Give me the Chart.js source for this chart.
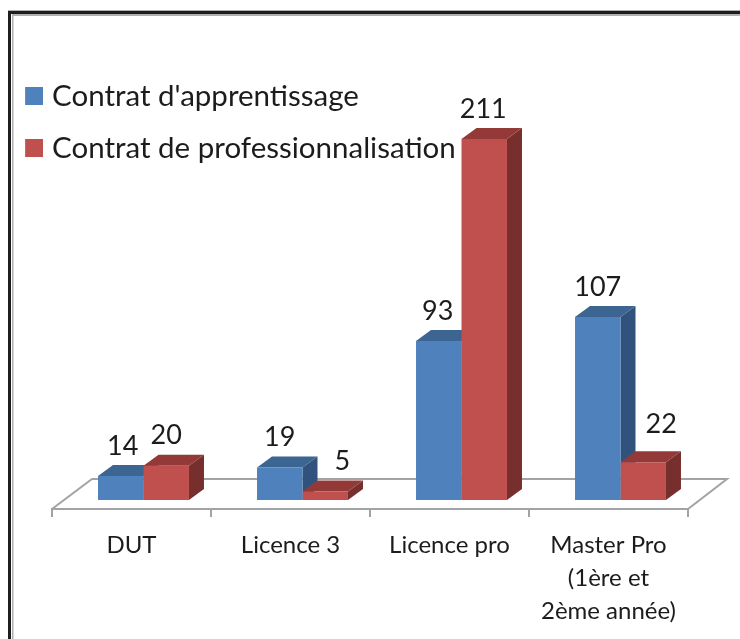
<!DOCTYPE html>
<html>
<head>
<meta charset="utf-8">
<style>html,body{margin:0;padding:0;background:#fff}canvas{display:block}</style>
<script src="https://cdn.jsdelivr.net/npm/chart.js@4/dist/chart.umd.min.js"></script>
</head>
<body>
<div style="width:740px;height:639px;position:relative"><canvas id="c"></canvas></div>
<script>
const categories = [["DUT"], ["Licence 3"], ["Licence pro"], ["Master Pro", "(1ère et", "2ème année)"]];
const apprentissage = [14, 19, 93, 107];
const professionnalisation = [20, 5, 211, 22];
const seriesNames = ["Contrat d'apprentissage", "Contrat de professionnalisation"];
const frontColors = ["#4F81BD", "#C0504D"];
const topColors = ["#3D6591", "#933A38"];
const sideColors = ["#30527C", "#772F2D"];
const labelNudges = [[[2,0],[0,0],[-1,0],[0,0]], [[0,0],[17,0],[-1,0],[18,-8]]];

const FONT = "Lato, Carlito, sans-serif";
const TEXT = "#1c1c1c";
const BAR_SHIFT = [12, -9], DEPTH = [15, -11], FLOOR = [40, -30], LABEL_GAP = 30;
const LEGEND_SIZE = 29.5, LEGEND_PAD = 22.5, KEY = 18, KEY_SLOT = 12.25;

function legendKey(color) {
  // Square key sitting at the right of a wider transparent image, so the
  // legend text can start closer to the key than the default half-font gap.
  const k = document.createElement("canvas");
  k.width = 24; k.height = KEY;
  const g = k.getContext("2d");
  g.fillStyle = color; g.fillRect(24 - KEY, 0, KEY, KEY);
  return k;
}

const scene = {
  id: "scene",
  afterLayout(chart) {
    const l = chart.legend;
    l.left = 25 - LEGEND_PAD; l.right = l.left + l.width;
    l.top = 58.75; l.bottom = l.top + l.height;
  },
  beforeDraw(chart) {
    const c = chart.ctx;
    c.save();
    c.fillStyle = "#fff"; c.fillRect(0, 0, chart.width, chart.height);
    c.fillStyle = "#b0b0b0";
    c.fillRect(8, 10, 732, 1);
    c.fillRect(12, 14, 728, 2);
    c.fillRect(12, 14, 1.5, 625);
    c.fillStyle = "#1e1e1e";
    c.fillRect(8, 11, 3, 628); c.fillRect(8, 11, 732, 3);
    c.restore();
  },
  beforeDatasetsDraw(chart) {
    const c = chart.ctx, a = chart.chartArea;
    c.save();
    c.strokeStyle = "#a3a3a3"; c.lineWidth = 2;
    c.beginPath();
    c.moveTo(a.left, a.bottom); c.lineTo(a.left + FLOOR[0], a.bottom + FLOOR[1]);
    c.lineTo(a.right + FLOOR[0] - 1, a.bottom + FLOOR[1]); c.lineTo(a.right, a.bottom);
    c.stroke();
    c.restore();
    c.save();
    c.translate(BAR_SHIFT[0], BAR_SHIFT[1]);
    chart.getSortedVisibleDatasetMetas().forEach((meta, s) => {
      meta.data.forEach(b => {
        const h = b.width / 2, L = b.x - h, R = b.x + h;
        c.fillStyle = sideColors[s];
        c.beginPath();
        c.moveTo(R, b.y); c.lineTo(R + DEPTH[0], b.y + DEPTH[1]);
        c.lineTo(R + DEPTH[0], b.base + DEPTH[1]); c.lineTo(R, b.base);
        c.closePath(); c.fill();
        c.fillStyle = topColors[s];
        c.beginPath();
        c.moveTo(L, b.y); c.lineTo(L + DEPTH[0], b.y + DEPTH[1]);
        c.lineTo(R + DEPTH[0], b.y + DEPTH[1]); c.lineTo(R, b.y);
        c.closePath(); c.fill();
      });
    });
  },
  afterDatasetsDraw(chart) {
    const c = chart.ctx;
    c.restore();
    c.save();
    c.font = "27px " + FONT; c.fillStyle = TEXT;
    c.textAlign = "center"; c.textBaseline = "middle";
    chart.getSortedVisibleDatasetMetas().forEach((meta, s) => {
      meta.data.forEach((b, i) => {
        const v = chart.data.datasets[s].data[i], n = labelNudges[s][i];
        c.fillText(String(v), b.x + BAR_SHIFT[0] + n[0], b.y + BAR_SHIFT[1] - LABEL_GAP + n[1]);
      });
    });
    c.restore();
  }
};

new Chart(document.getElementById("c"), {
  type: "bar",
  data: {
    labels: categories,
    datasets: [
      { label: seriesNames[0], data: apprentissage, backgroundColor: frontColors[0] },
      { label: seriesNames[1], data: professionnalisation, backgroundColor: frontColors[1] }
    ]
  },
  plugins: [scene],
  options: {
    responsive: true, maintainAspectRatio: false, animation: false,
    devicePixelRatio: 1,
    layout: { padding: { left: 52, right: 52, top: 30, bottom: 0 } },
    categoryPercentage: 0.572, barPercentage: 1,
    scales: {
      x: {
        grid: { drawOnChartArea: false, tickLength: 8, color: "#a3a3a3", lineWidth: 2, offset: true },
        border: { color: "#a3a3a3", width: 2 },
        ticks: { font: { family: FONT, size: 24, lineHeight: 1.375 }, color: TEXT, padding: 12, maxRotation: 0, autoSkip: false },
        afterFit(scale) { scale.height = 130; }
      },
      y: { display: false, min: 0, max: 280 }
    },
    plugins: {
      tooltip: { enabled: false },
      title: { display: false },
      legend: {
        position: "chartArea",
        align: "start",
        labels: {
          usePointStyle: true, pointStyleWidth: KEY_SLOT,
          boxHeight: KEY, padding: LEGEND_PAD,
          color: TEXT, font: { family: FONT, size: LEGEND_SIZE },
          generateLabels(chart) {
            return chart.data.datasets.map((d, i) => ({
              text: d.label, datasetIndex: i, fontColor: TEXT,
              fillStyle: frontColors[i], strokeStyle: frontColors[i], lineWidth: 0,
              pointStyle: legendKey(frontColors[i])
            }));
          }
        }
      }
    }
  }
});
</script>
</body>
</html>
